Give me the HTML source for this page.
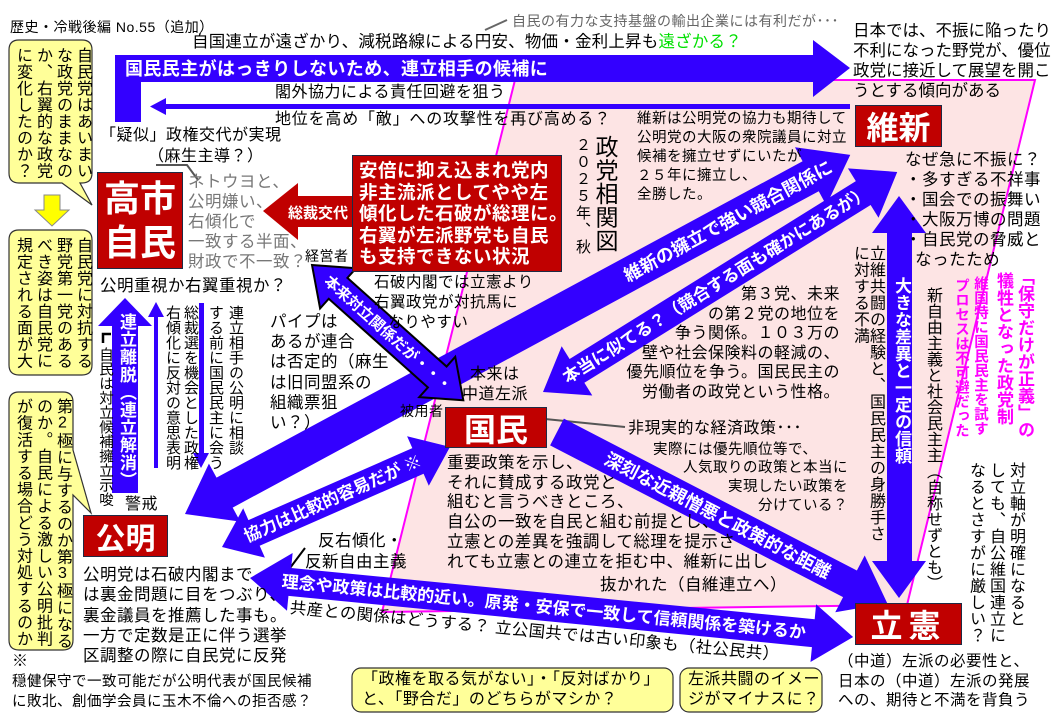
<!DOCTYPE html>
<html><head><meta charset="utf-8">
<style>
html,body{margin:0;padding:0;}
body{width:1064px;height:728px;position:relative;overflow:hidden;background:#fff;font-family:"Liberation Sans","Noto Sans CJK JP",sans-serif;color:#000;}
.t{position:absolute;white-space:nowrap;font-size:16px;line-height:20px;letter-spacing:0.5px;}
.v{position:absolute;writing-mode:vertical-rl;text-orientation:upright;white-space:nowrap;font-size:16px;line-height:20px;}
.box{position:absolute;background:#c00000;border:1.5px solid #1f2a44;color:#fff;font-weight:bold;display:flex;align-items:center;justify-content:center;text-align:center;box-sizing:border-box;}
svg{position:absolute;left:0;top:0;}
</style></head><body>
<svg width="1064" height="728" viewBox="0 0 1064 728" font-family="Liberation Sans, Noto Sans CJK JP, sans-serif">
  <polygon points="515,80 1035,80 907,605 382,612" fill="#fde4e4" stroke="#ff00ff" stroke-width="2"/>
  <path d="M19,40 H82 Q92,40 92,50 V173 Q92,183 82,183 H80 L92,205 L62,183 H19 Q9,183 9,173 V50 Q9,40 19,40 Z" fill="#ffff99" stroke="#333" stroke-width="1.2"/>
  <path d="M19,230 H82 Q92,230 92,240 V365 Q92,375 82,375 H19 Q9,375 9,365 V240 Q9,230 19,230 Z" fill="#ffff99" stroke="#333" stroke-width="1.2"/>
  <path d="M19,392 H63 Q73,392 73,402 V450 L91,513 L73,495 V640 Q73,650 63,650 H19 Q9,650 9,640 V402 Q9,392 19,392 Z" fill="#ffff99" stroke="#333" stroke-width="1.2"/>
  <polygon points="44,195 60,195 60,210 69,210 52,226 35,210 44,210" fill="#ffff00" stroke="#888" stroke-width="1"/>
  <rect x="352" y="668" width="321" height="44" rx="9" fill="#ffff99" stroke="#333" stroke-width="1.2"/>
  <rect x="680" y="668" width="142" height="44" rx="9" fill="#ffff99" stroke="#333" stroke-width="1.2"/>
  <polygon points="115,55 813,55 813,40 850,68 813,97 813,82 141,82 141,122 115,122" fill="#3300ff"/>
  <text x="125" y="75" fill="#fff" font-size="18" font-weight="bold" letter-spacing="0.4">国民民主がはっきりしないため、連立相手の候補に</text>
  <polygon points="150,106.5 166,98 166,104 850,104 850,109 166,109 166,115" fill="#3300ff"/>
  <polygon points="263,211 298,183 298,196 353,196 353,227 298,227 298,240" fill="#c00000"/>
  <text x="288" y="218" fill="#fff" font-size="15" font-weight="bold">総裁交代</text>
  <polygon points="125,298 152,326 138,326 138,493 112,493 112,326 98,326" fill="#3300ff"/>
  <polygon points="148,317 156,302 164,317 158,317 158,468 154,468 154,317" fill="#3300ff"/>
  <polygon points="199,303 204,303 204,453 209,453 201,468 193,453 199,453" fill="#3300ff"/>
  <polyline points="103,343 103,334 111,334" fill="none" stroke="#000" stroke-width="2.5"/>
  <line x1="485" y1="30" x2="507" y2="20" stroke="#666" stroke-width="2"/>
  <polyline points="156,165 187,165 198,180" fill="none" stroke="#555" stroke-width="2"/>
  <line x1="287" y1="572" x2="305" y2="548" stroke="#000" stroke-width="2"/>
  <line x1="545" y1="419" x2="625" y2="427" stroke="#555" stroke-width="2"/>
  <g transform="translate(185,514) rotate(-28.36)">
    <polygon points="0,0 45,-33 45,-17 711,-17 711,-33 756,0 711,33 711,17 45,17 45,33" fill="#3300ff"/>
    <text x="500" y="6.5" fill="#fff" font-size="18" font-weight="bold">維新の擁立で強い競合関係に</text>
  </g>
  <g transform="translate(543,392) rotate(-31.85)">
    <polygon points="0,0 40,-29 40,-14 377,-14 377,-29 417,0 377,29 377,14 40,14 40,29" fill="#3300ff"/>
    <text x="25" y="6" fill="#fff" font-size="17" font-weight="bold">本当に似てる？（競合する面も確かにあるが）</text>
  </g>
  <polygon points="899,196 926,233 912,233 912,561 926,561 899,598 872,561 887,561 887,233 872,233" fill="#3300ff"/>
  <g transform="translate(557,432) rotate(27.4)">
    <polygon points="0,-15 330,-15 330,-32 372,0 330,32 330,15 0,15" fill="#3300ff"/>
    <text x="55" y="6.5" fill="#fff" font-size="18" font-weight="bold">深刻な近親憎悪と政策的な距離</text>
  </g>
  <g transform="translate(250,578) rotate(5.59)">
    <polygon points="0,0 40,-29 40,-14 566,-14 566,-29 606,0 566,29 566,14 40,14 40,29" fill="#3300ff"/>
    <text x="32" y="6" fill="#fff" font-size="17" font-weight="bold">理念や政策は比較的近い。原発・安保で一致して信頼関係を築けるか</text>
  </g>
  <g transform="translate(222,547) rotate(-23.7)">
    <polygon points="0,0 35,-27 35,-14 214,-14 214,-27 249,0 214,27 214,14 35,14 35,27" fill="#3300ff"/>
    <text x="25" y="6" fill="#fff" font-size="17" font-weight="bold">協力は比較的容易だが ※</text>
  </g>
  <g transform="translate(312,265) rotate(41.8)">
    <polygon points="0,0 35,-27 35,-14 168,-14 168,-27 203,0 168,27 168,14 35,14 35,27" fill="#3300ff" stroke="#000" stroke-width="2"/>
    <text x="20" y="5.5" fill="#fff" font-size="15" font-weight="bold">本来対立関係だが・・・</text>
  </g>
</svg>

<div class="box" style="left:97px;top:172px;width:86px;height:97px;font-size:36px;line-height:44px;">高市<br>自民</div>
<div class="box" style="left:855px;top:105px;width:87px;height:42px;font-size:32px;">維新</div>
<div class="box" style="left:445px;top:407px;width:102px;height:41px;font-size:32px;">国民</div>
<div class="box" style="left:83px;top:515px;width:85px;height:42px;font-size:30px;">公明</div>
<div class="box" style="left:855px;top:603px;width:107px;height:42px;font-size:32px;letter-spacing:6px;">立憲</div>
<div class="box" style="left:352px;top:155px;width:210px;height:117px;font-size:18.5px;line-height:21.5px;justify-content:flex-start;align-items:flex-start;text-align:left;padding:4px 0 0 6px;letter-spacing:0.5px;white-space:nowrap;">安倍に抑え込まれ党内<br>非主流派としてやや左<br>傾化した石破が総理に。<br>右翼が左派野党も自民<br>も支持できない状況</div>

<div class="t" style="left:10px;top:17px;font-size:14px;">歴史・冷戦後編 No.55（追加）</div>
<div class="t" style="left:512px;top:11px;font-size:14px;color:#666;">自民の有力な支持基盤の輸出企業には有利だが･･･</div>
<div class="t" style="left:192px;top:32px;font-size:16.5px;letter-spacing:0.2px;">自国連立が遠ざかり、減税路線による円安、物価・金利上昇も<span style="color:#00e000">遠ざかる？</span></div>
<div class="t" style="left:275px;top:83px;">閣外協力による責任回避を狙う</div>
<div class="t" style="left:275px;top:110px;letter-spacing:0.8px;">地位を高め「敵」への攻撃性を再び高める？</div>
<div class="t" style="left:100px;top:126px;">「疑似」政権交代が実現</div>
<div class="t" style="left:148px;top:147px;">（麻生主導？）</div>
<div class="t" style="left:188px;top:172px;color:#777;font-size:16.5px;">ネトウヨと、<br>公明嫌い、<br>右傾化で<br>一致する半面、<br>財政で不一致？</div>
<div class="t" style="left:305px;top:246px;font-size:14px;">経営者</div>
<div class="t" style="left:100px;top:276px;font-size:16.5px;">公明重視か右翼重視か？</div>
<div class="t" style="left:374px;top:273px;font-size:15.5px;">石破内閣では立憲より<br>右翼政党が対抗馬に<br>&nbsp;&nbsp;&nbsp;なりやすい</div>
<div class="t" style="left:270px;top:312px;font-size:16.5px;line-height:20.2px;">パイプは<br>あるが連合<br>は否定的（麻生<br>は旧同盟系の<br>組織票狙<br>い？）</div>
<div class="t" style="left:470px;top:365px;">本来は</div>
<div class="t" style="left:462px;top:385px;">中道左派</div>
<div class="t" style="left:400px;top:401px;font-size:14px;">被用者</div>
<div class="t" style="left:637px;top:110px;font-size:14.5px;line-height:19px;">維新は公明党の協力も期待して<br>公明党の大阪の衆院議員に対立<br>候補を擁立せずにいたが<br>２５年に擁立し、<br>全勝した。</div>
<div class="t" style="left:853px;top:21px;font-size:16.5px;letter-spacing:0;">日本では、不振に陥ったり<br>不利になった野党が、優位<br>政党に接近して展望を開こ<br>うとする傾向がある</div>
<div class="t" style="left:905px;top:150px;font-size:16.5px;">なぜ急に不振に？<br>・多すぎる不祥事<br>・国会での振舞い<br>・大阪万博の問題<br>・自民党の脅威と<br>&nbsp;&nbsp;なったため</div>
<div class="t" style="left:600px;width:240px;top:285px;text-align:right;line-height:19.6px;">第３党、未来<br>の第２党の地位を<br>争う関係。１０３万の<br>壁や社会保険料の軽減の、<br>優先順位を争う。国民民主の<br>労働者の政党という性格。</div>
<div class="t" style="left:628px;top:419px;">非現実的な経済政策･･･</div>
<div class="t" style="left:653px;top:440px;font-size:14.5px;">実際には優先順位等で、</div>
<div class="t" style="left:683px;top:458px;font-size:14.5px;">人気取りの政策と本当に</div>
<div class="t" style="left:728px;top:477px;font-size:14.5px;">実現したい政策を</div>
<div class="t" style="left:758px;top:496px;font-size:14.5px;">分けている？</div>
<div class="t" style="left:447px;top:454px;font-size:16.5px;line-height:19.7px;">重要政策を示し、<br>それに賛成する政党と<br>組むと言うべきところ、<br>自公の一致を自民と組む前提とし、<br>立憲との差異を強調して総理を提示さ<br>れても立憲との連立を拒む中、維新に出し</div>
<div class="t" style="left:600px;top:575px;font-size:16.5px;">抜かれた（自維連立へ）</div>
<div class="t" style="left:318px;top:531px;font-size:16.5px;">反右傾化・</div>
<div class="t" style="left:305px;top:552px;font-size:16.5px;">反新自由主義</div>
<div class="t" style="left:83px;top:565px;font-size:16.5px;line-height:20.3px;">公明党は石破内閣まで<br>は裏金問題に目をつぶり、<br>裏金議員を推薦した事も。<br>一方で定数是正に伴う選挙<br>区調整の際に自民党に反発</div>
<div class="t" style="left:290px;top:598px;font-size:16.3px;transform:rotate(5.5deg);transform-origin:0 50%;">共産との関係はどうする？ 立公国共では古い印象も（社公民共）</div>
<div class="t" style="left:12px;top:652px;font-size:16px;">※</div>
<div class="t" style="left:12px;top:672px;font-size:14.5px;">穏健保守で一致可能だが公明代表が国民候補<br>に敗北、創価学会員に玉木不倫への拒否感？</div>
<div class="t" style="left:838px;top:652px;font-size:15.5px;line-height:19.5px;">（中道）左派の必要性と、<br>日本の（中道）左派の発展<br>への、期待と不満を背負う</div>
<div class="t" style="left:362px;top:670px;font-size:16px;">「政権を取る気がない」・「反対ばかり」<br>と、「野合だ」のどちらがマシか？</div>
<div class="t" style="left:688px;top:670px;font-size:16px;">左派共闘のイメー<br>ジがマイナスに？</div>

<div class="v" style="left:72px;top:47px;font-size:16px;letter-spacing:0.5px;">自民党はあいまい</div>
<div class="v" style="left:52px;top:47px;font-size:16px;letter-spacing:0.5px;">な政党のままなの</div>
<div class="v" style="left:32px;top:47px;font-size:16px;letter-spacing:0.5px;">か、右翼的な政党</div>
<div class="v" style="left:12px;top:47px;font-size:16px;letter-spacing:0.5px;">に変化したのか？</div>
<div class="v" style="left:72px;top:237px;font-size:16px;letter-spacing:0.5px;">自民党に対抗する</div>
<div class="v" style="left:52px;top:237px;font-size:16px;letter-spacing:0.5px;">野党第一党のある</div>
<div class="v" style="left:32px;top:237px;font-size:16px;letter-spacing:0.5px;">べき姿は自民党に</div>
<div class="v" style="left:12px;top:237px;font-size:16px;letter-spacing:0.5px;">規定される面が大</div>
<div class="v" style="left:52px;top:398px;font-size:16px;letter-spacing:0.6px;">第2極に与するのか第3極になる</div>
<div class="v" style="left:32px;top:398px;font-size:16px;letter-spacing:0.6px;">のか。自民による激しい公明批判</div>
<div class="v" style="left:12px;top:398px;font-size:16px;letter-spacing:0.6px;">が復活する場合どう対処するのか</div>

<div class="v" style="left:116px;top:313px;font-size:17px;color:#fff;font-weight:bold;letter-spacing:0.6px;">連立離脱（連立解消）</div>
<div class="v" style="left:95px;top:347px;font-size:14.5px;">自民は対立候補擁立示唆</div>
<div class="t" style="left:125px;top:495px;font-size:16px;">警戒</div>
<div class="v" style="left:225px;top:305px;font-size:15px;">連立相手の公明に相談</div>
<div class="v" style="left:205px;top:305px;font-size:15px;">する前に国民民主に会う</div>
<div class="v" style="left:180px;top:305px;font-size:15px;">総裁選を機会とした政権</div>
<div class="v" style="left:162px;top:305px;font-size:15px;">右傾化に反対の意思表明</div>

<div class="v" style="left:593px;top:135px;font-size:23px;line-height:24px;letter-spacing:0.5px;">政党相関図</div>
<div class="v" style="left:572px;top:137px;font-size:15px;letter-spacing:2px;">２０２５年、秋</div>

<div class="v" style="left:865px;top:245px;font-size:16px;letter-spacing:0.5px;">立維共闘の経験と、国民民主の身勝手さ</div>
<div class="v" style="left:849px;top:245px;font-size:16px;letter-spacing:0.5px;">に対する不満</div>
<div class="v" style="left:891px;top:277px;font-size:17px;color:#fff;font-weight:bold;">大きな差異と一定の信頼</div>
<div class="v" style="left:922px;top:287px;font-size:16px;">新自由主義と社会民主主（自称せずとも）</div>
<div class="v" style="left:1014px;top:268px;font-size:17px;color:#ff00ff;font-weight:bold;">「保守だけが正義」の</div>
<div class="v" style="left:993px;top:272px;font-size:17px;color:#ff00ff;font-weight:bold;">犠牲となった政党制</div>
<div class="v" style="left:970px;top:276px;font-size:14.5px;color:#ff00ff;font-weight:bold;">維国特に国民民主を試す</div>
<div class="v" style="left:951px;top:278px;font-size:14.5px;color:#ff00ff;font-weight:bold;">プロセスは不可避だった</div>
<div class="v" style="left:1005px;top:462px;font-size:16px;letter-spacing:0.5px;">対立軸が明確になると</div>
<div class="v" style="left:985px;top:462px;font-size:16px;letter-spacing:0.5px;">しても、自公維国連立に</div>
<div class="v" style="left:965px;top:462px;font-size:16px;letter-spacing:0.5px;">なるとさすがに厳しい？</div>
</body></html>
